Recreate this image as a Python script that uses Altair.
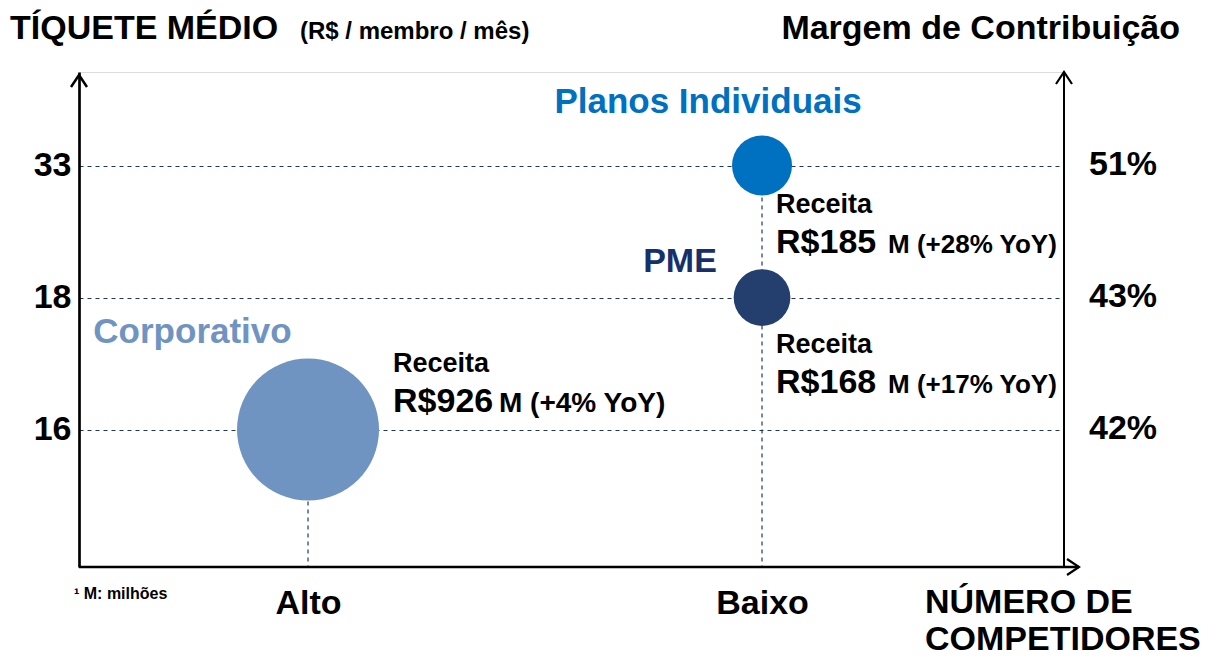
import altair as alt
import pandas as pd

# ---- data ----
segmentos = ["Corporativo", "PME", "Planos Individuais"]
competidores = ["Alto", "Baixo", "Baixo"]
tiquete = ["16", "18", "33"]
margem = ["42%", "43%", "51%"]
receita = [926, 168, 185]
yoy = ["+4%", "+17%", "+28%"]

tiquete_ordem = ["33", "18", "16"]
competidores_ordem = ["Alto", "Baixo"]

titulo_y = "TÍQUETE MÉDIO"
titulo_y_unidade = "(R$ / membro / mês)"
titulo_direita = "Margem de Contribuição"
titulo_x = ["NÚMERO DE", "COMPETIDORES"]
nota = "¹ M: milhões"
rotulo_receita = "Receita"

# ---- styles ----
cores = ["#7094C2", "#243F6E", "#0070C0"]
cores_rotulo = ["#7094C2", "#15306B", "#0070C0"]
FONT = "Liberation Sans"
NAVY = "#1F3864"
W, H = 985, 495

df = pd.DataFrame({
    "segmento": segmentos,
    "competidores": competidores,
    "tiquete": tiquete,
    "margem": margem,
    "receita": receita,
    "yoy": yoy,
})

x_enc = alt.X(
    "competidores:N",
    scale=alt.Scale(type="point", domain=competidores_ordem, padding=0.5848, align=0.4313, round=False),
    axis=alt.Axis(title=None, labelAngle=0, labelFont=FONT, labelFontSize=34, labelFontWeight="bold",
                  labelColor="black", labelPadding=19, ticks=False, domain=False, grid=False),
)
y_enc = alt.Y(
    "tiquete:N",
    scale=alt.Scale(type="point", domain=tiquete_ordem, padding=0.875, align=0.4048, round=False),
    axis=alt.Axis(title=None, labelFont=FONT, labelFontSize=34, labelFontWeight="bold", labelColor="black",
                  labelPadding=8, ticks=False, domain=True, domainColor="black", domainWidth=2.7,
                  grid=True, gridDash=[4, 4], gridColor=NAVY, gridWidth=1),
)

base = alt.Chart(df).encode(x=x_enc, y=y_enc)

# one dashed drop line per competitor level, from its highest bubble down to the axis
rules = (
    base.transform_calculate(tn="toNumber(datum.tiquete)")
    .transform_joinaggregate(mx="max(tn)", groupby=["competidores"])
    .transform_filter("datum.tn == datum.mx")
    .mark_rule(strokeDash=[4, 4], color=NAVY, strokeWidth=1.2)
    .encode(y2=alt.value(H))
)

circles = base.mark_circle(opacity=1).encode(
    size=alt.Size("receita:Q", scale=alt.Scale(domain=[24, 926], range=[0, 20164], zero=False), legend=None),
    color=alt.Color("segmento:N", scale=alt.Scale(domain=segmentos, range=cores), legend=None),
)

# offsets per segment: (label dx, label dy, receita dx, receita dy, valor dy, M dx, M size)
offs = {
    "Corporativo": (-115.5, -86.5, 85, -57.5, -17.5, 106, 28),
    "PME": (-82, -25.5, 14, 55.5, 95.5, 112, 26),
    "Planos Individuais": (-54, -52.5, 14, 47.5, 87.5, 112, 26),
}
label_sizes = {"Corporativo": 35, "PME": 34, "Planos Individuais": 35}

layers = [rules, circles]
for i, seg in enumerate(segmentos):
    ldx, ldy, rdx, rdy, vdy, mdx, msz = offs[seg]
    sub = base.transform_filter(alt.datum.segmento == seg)
    layers.append(sub.mark_text(dx=ldx, dy=ldy, align="center", baseline="alphabetic", font=FONT,
                                fontWeight="bold", fontSize=label_sizes[seg], color=cores_rotulo[i])
                  .encode(text="segmento:N"))
    layers.append(sub.transform_calculate(t="'" + rotulo_receita + "'")
                  .mark_text(dx=rdx, dy=rdy, align="left", baseline="alphabetic", font=FONT,
                             fontWeight="bold", fontSize=27, color="black")
                  .encode(text="t:N"))
    layers.append(sub.transform_calculate(t="'R$' + datum.receita")
                  .mark_text(dx=rdx, dy=vdy, align="left", baseline="alphabetic", font=FONT,
                             fontWeight="bold", fontSize=34, color="black")
                  .encode(text="t:N"))
    layers.append(sub.transform_calculate(t="'M (' + datum.yoy + ' YoY)'")
                  .mark_text(dx=rdx + mdx, dy=vdy, align="left", baseline="alphabetic", font=FONT,
                             fontWeight="bold", fontSize=msz, color="black")
                  .encode(text="t:N"))

# right-hand axis labels (contribution margin)
layers.append(base.mark_text(align="left", baseline="alphabetic", dy=9, font=FONT, fontWeight="bold",
                             fontSize=34, color="black")
              .encode(x=alt.value(W + 25), text="margem:N"))

one = alt.Chart(pd.DataFrame({"k": [0]}))

# axis lines and arrowheads
layers.append(one.mark_rule(color="black", strokeWidth=2.7).encode(
    x=alt.value(0), x2=alt.value(W + 15), y=alt.value(H)))
layers.append(one.mark_rule(color="black", strokeWidth=2).encode(
    x=alt.value(W), y=alt.value(0), y2=alt.value(H)))
up = "M-0.667,1L0,0L0.667,1"
right = "M-1,-0.667L0,0L-1,0.667"
layers.append(one.mark_point(shape=up, filled=False, stroke="black", strokeWidth=2.5, size=576, opacity=1)
              .encode(x=alt.value(0), y=alt.value(3)))
layers.append(one.mark_point(shape=up, filled=False, stroke="black", strokeWidth=2.2, size=576, opacity=1)
              .encode(x=alt.value(W), y=alt.value(0)))
layers.append(one.mark_point(shape=right, filled=False, stroke="black", strokeWidth=2.2, size=576, opacity=1)
              .encode(x=alt.value(W + 15), y=alt.value(H)))

# titles / annotations
anns = [
    (titulo_y, -69, -33, 34, "left"),
    (titulo_y_unidade, 221, -33, 24, "left"),
    (titulo_direita, 1101, -33, 34, "right"),
    (titulo_x[0], 846, 541, 34, "left"),
    (titulo_x[1], 846, 578, 34, "left"),
    (nota, -5, 527, 16, "left"),
]
for txt, ax, ay, fs, al in anns:
    layers.append(one.mark_text(text=txt, align=al, baseline="alphabetic", font=FONT, fontWeight="bold",
                                fontSize=fs, color="black")
                  .encode(x=alt.value(ax), y=alt.value(ay)))

chart = alt.layer(*layers).properties(
    width=W, height=H,
    padding={"left": 71, "top": 64, "right": 151, "bottom": 93},
    autosize=alt.AutoSizeParams(type="none"),
).configure_view(stroke=None).configure(font=FONT)

chart.save("out.html", embed_options={"renderer": "svg", "actions": False})
